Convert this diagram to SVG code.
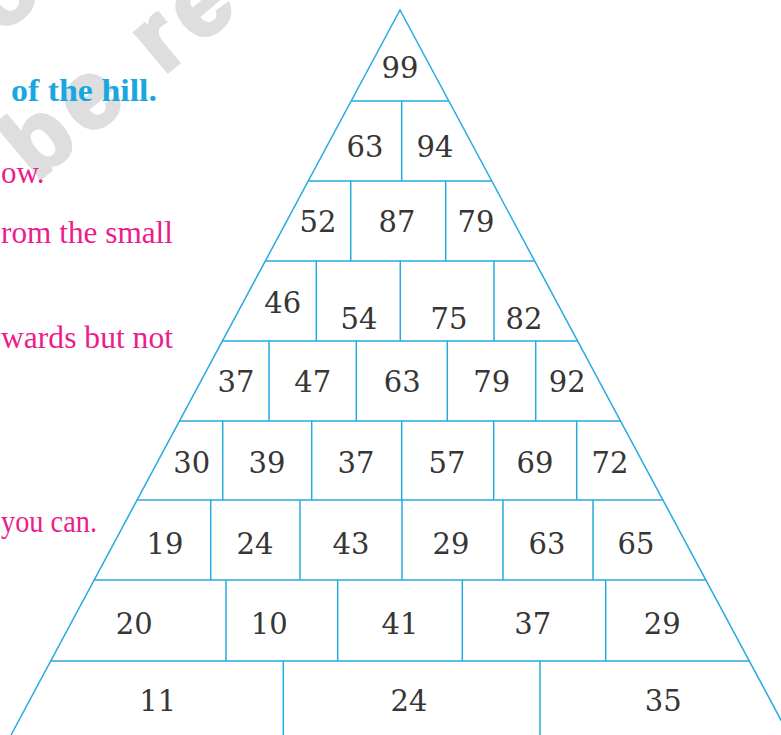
<svg xmlns="http://www.w3.org/2000/svg" width="781" height="735" viewBox="0 0 781 735">
<style>
.ln{stroke:#27aae1;stroke-width:1.5;fill:none}
.n{font-family:"DejaVu Serif","Liberation Serif",serif;font-size:29px;fill:#363636;text-anchor:middle}
.pk{font-family:"Liberation Serif",serif;font-size:31px;fill:#ec1c8c}
.hd{font-family:"Liberation Serif",serif;font-size:32px;font-weight:bold;fill:#1aa7e0}
.wm{font-family:"Liberation Sans",sans-serif;font-size:96px;font-weight:bold;fill:#dedede;stroke:#dedede;stroke-width:4}
</style>
<rect width="781" height="735" fill="#ffffff"/>
<g id="watermark">
<text class="wm" transform="translate(36,182) rotate(-40)" letter-spacing="9">be re</text>
<text class="wm" transform="translate(0,35) rotate(-40)">o</text>
</g>
<text class="hd" x="11" y="101" textLength="146" lengthAdjust="spacingAndGlyphs">of the hill.</text>
<text class="pk" x="1" y="183">ow.</text>
<text class="pk" x="1" y="243" textLength="172" lengthAdjust="spacingAndGlyphs">rom the small</text>
<text class="pk" x="1" y="348" textLength="172" lengthAdjust="spacingAndGlyphs">wards but not</text>
<text class="pk" x="1" y="532" textLength="96" lengthAdjust="spacingAndGlyphs">you can.</text>
<g id="connectors">
<polyline class="ln" points="11,735 400,10 789,735"/>
<line class="ln" x1="351.2" y1="101" x2="448.8" y2="101"/>
<line class="ln" x1="308.2" y1="181" x2="491.8" y2="181"/>
<line class="ln" x1="265.3" y1="261" x2="534.7" y2="261"/>
<line class="ln" x1="222.4" y1="341" x2="577.6" y2="341"/>
<line class="ln" x1="179.5" y1="421" x2="620.5" y2="421"/>
<line class="ln" x1="137.1" y1="500" x2="662.9" y2="500"/>
<line class="ln" x1="94.1" y1="580" x2="705.9" y2="580"/>
<line class="ln" x1="50.7" y1="661" x2="749.3" y2="661"/>
<path class="ln" d="M401.7 101V181 M350.7 181V261 M445.7 181V261 M316.3 261V341 M400.3 261V341 M494 261V341 M269 341V421 M356.3 341V421 M447.3 341V421 M535.7 341V421 M222.7 421V500 M311.7 421V500 M401.7 421V500 M493.7 421V500 M576.7 421V500 M210.7 500V580 M300 500V580 M402 500V580 M503 500V580 M593 500V580 M226 580V661 M337.7 580V661 M462.3 580V661 M605.7 580V661 M283.3 661V735 M540 661V735"/>
</g>
<g id="r1"><text class="n" x="400" y="78">99</text></g>
<g id="r2"><text class="n" x="365" y="157">63</text><text class="n" x="435" y="157">94</text></g>
<g id="r3"><text class="n" x="318" y="232">52</text><text class="n" x="397" y="232">87</text><text class="n" x="476" y="232">79</text></g>
<g id="r4"><text class="n" x="282.7" y="313">46</text><text class="n" x="359" y="329">54</text><text class="n" x="449" y="329">75</text><text class="n" x="524" y="329">82</text></g>
<g id="r5"><text class="n" x="236" y="392">37</text><text class="n" x="312.7" y="392">47</text><text class="n" x="402.3" y="392">63</text><text class="n" x="491.7" y="392">79</text><text class="n" x="567.3" y="392">92</text></g>
<g id="r6"><text class="n" x="191.7" y="473">30</text><text class="n" x="267" y="473">39</text><text class="n" x="356" y="473">37</text><text class="n" x="447" y="473">57</text><text class="n" x="535" y="473">69</text><text class="n" x="610" y="473">72</text></g>
<g id="r7"><text class="n" x="165" y="554">19</text><text class="n" x="255" y="554">24</text><text class="n" x="351" y="554">43</text><text class="n" x="451" y="554">29</text><text class="n" x="547" y="554">63</text><text class="n" x="636" y="554">65</text></g>
<g id="r8"><text class="n" x="134.3" y="634">20</text><text class="n" x="269.3" y="634">10</text><text class="n" x="400" y="634">41</text><text class="n" x="532.7" y="634">37</text><text class="n" x="662.3" y="634">29</text></g>
<g id="r9"><text class="n" x="157.7" y="711">11</text><text class="n" x="409" y="711">24</text><text class="n" x="663.3" y="711">35</text></g>
</svg>
